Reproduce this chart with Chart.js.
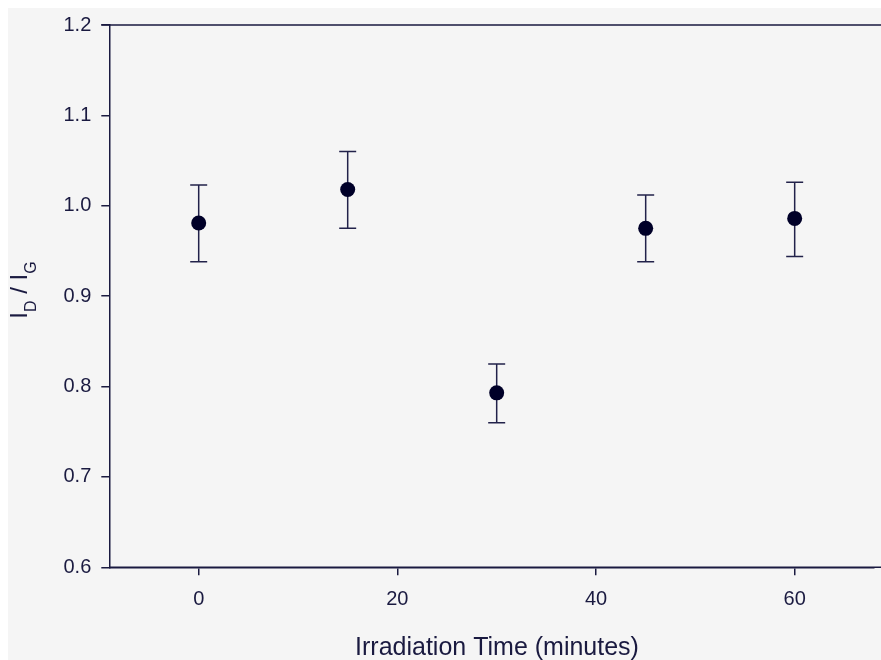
<!DOCTYPE html>
<html>
<head>
<meta charset="utf-8">
<script src="https://cdn.jsdelivr.net/npm/chart.js@4.4.1/dist/chart.umd.min.js"></script>
<style>
  html, body { margin: 0; padding: 0; background: #ffffff; overflow: hidden; }
  canvas { display: block; }
</style>
</head>
<body>
<canvas id="chart" width="881" height="660"></canvas>
<script>
// Irradiation time vs ID/IG ratio, mean +/- error
const times = [0, 15, 30, 45, 60];
const ratio = [0.981, 1.018, 0.793, 0.975, 0.986];
const errLow = [0.938, 0.975, 0.760, 0.938, 0.944];
const errHigh = [1.023, 1.060, 0.825, 1.012, 1.026];
const xTicks = [0, 20, 40, 60];
const yTicks = [0.6, 0.7, 0.8, 0.9, 1.0, 1.1, 1.2];

const ink = '#1a1a40';
const dotColor = '#000028';
const fontFamily = 'Arial, "Liberation Sans", sans-serif';
const xMin = -9;
const pxPerMinute = 9.933; // 20 minutes ~ 198.7px in the original

Chart.defaults.font.family = fontFamily;
Chart.defaults.color = ink;

// page backdrop: white margin top/left, light grey panel
const backdrop = {
  id: 'backdrop',
  beforeDraw(chart) {
    const { ctx, width, height } = chart;
    ctx.save();
    ctx.fillStyle = '#ffffff';
    ctx.fillRect(0, 0, width, height);
    ctx.fillStyle = '#f5f5f5';
    ctx.fillRect(8, 8, width - 8, height - 8);
    ctx.restore();
  }
};

// error bars drawn under the dots
const errorBars = {
  id: 'errorBars',
  beforeDatasetsDraw(chart) {
    const { ctx, scales: { x, y } } = chart;
    ctx.save();
    ctx.strokeStyle = '#22224a';
    ctx.lineWidth = 1.5;
    times.forEach((t, i) => {
      const px = x.getPixelForValue(t);
      const top = y.getPixelForValue(errHigh[i]);
      const bot = y.getPixelForValue(errLow[i]);
      ctx.beginPath();
      ctx.moveTo(px, top); ctx.lineTo(px, bot);
      ctx.moveTo(px - 8.5, top); ctx.lineTo(px + 8.5, top);
      ctx.moveTo(px - 8.5, bot); ctx.lineTo(px + 8.5, bot);
      ctx.stroke();
    });
    ctx.restore();
  }
};

// top frame line, axis lines to the page edge, axis titles (y title needs subscripts)
const frameAndTitles = {
  id: 'frameAndTitles',
  afterDraw(chart) {
    const { ctx, chartArea: a } = chart;
    ctx.save();
    ctx.strokeStyle = ink;
    ctx.lineWidth = 1.5;
    ctx.beginPath();
    ctx.moveTo(a.left - 8, a.top);
    ctx.lineTo(chart.width, a.top);
    ctx.moveTo(a.left, a.bottom);
    ctx.lineTo(chart.width, a.bottom);
    ctx.stroke();

    ctx.fillStyle = ink;
    ctx.textAlign = 'center';
    ctx.textBaseline = 'alphabetic';
    ctx.font = '25px ' + fontFamily;
    ctx.fillText('Irradiation Time (minutes)', 497, 655);

    // I_D / I_G rotated
    const parts = [
      { t: 'I', size: 24, sub: false },
      { t: 'D', size: 16, sub: true },
      { t: ' / ', size: 24, sub: false },
      { t: 'I', size: 24, sub: false },
      { t: 'G', size: 16, sub: true }
    ];
    ctx.textAlign = 'left';
    let total = 0;
    parts.forEach(p => { ctx.font = p.size + 'px ' + fontFamily; p.w = ctx.measureText(p.t).width; total += p.w; });
    ctx.translate(27, 290);
    ctx.rotate(-Math.PI / 2);
    let cx = -total / 2;
    parts.forEach(p => {
      ctx.font = p.size + 'px ' + fontFamily;
      ctx.fillText(p.t, cx, p.sub ? 9 : 0);
      cx += p.w;
    });
    ctx.restore();
  }
};

const chart = new Chart(document.getElementById('chart'), {
  type: 'scatter',
  data: {
    datasets: [{
      data: times.map((t, i) => ({ x: t, y: ratio[i] })),
      backgroundColor: dotColor,
      borderWidth: 0,
      pointRadius: 7.5,
      pointHoverRadius: 7.5
    }]
  },
  options: {
    responsive: false,
    animation: false,
    devicePixelRatio: 1,
    layout: { padding: { top: 25, right: 0, left: 0, bottom: 0 } },
    plugins: { legend: { display: false }, tooltip: { enabled: false } },
    scales: {
      x: {
        type: 'linear',
        min: xMin,
        max: 68.7,
        afterBuildTicks: s => { s.ticks = xTicks.map(v => ({ value: v })); },
        afterFit: s => { s.height = 92.7; s.paddingLeft = 0; s.paddingRight = 0; },
        grid: { drawOnChartArea: false, drawTicks: true, tickLength: 8, color: ink, lineWidth: 1.5 },
        border: { display: true, color: ink, width: 1.5 },
        ticks: { color: ink, font: { size: 20 }, padding: 12, maxRotation: 0 }
      },
      y: {
        min: 0.6,
        max: 1.2,
        afterBuildTicks: s => { s.ticks = yTicks.map(v => ({ value: v })); },
        afterFit: s => { s.width = 109.3; s.paddingTop = 0; s.paddingBottom = 0; },
        grid: { drawOnChartArea: false, drawTicks: true, tickLength: 8, color: ink, lineWidth: 1.5 },
        border: { display: true, color: ink, width: 1.5 },
        ticks: { color: ink, font: { size: 20 }, padding: 10, callback: v => v.toFixed(1) }
      }
    }
  },
  plugins: [backdrop, errorBars, frameAndTitles]
});

// keep the original minutes-per-pixel scale whatever width the layout left us
const area = chart.chartArea;
chart.options.scales.x.max = xMin + (area.right - area.left) / pxPerMinute;
chart.update();
</script>
</body>
</html>
